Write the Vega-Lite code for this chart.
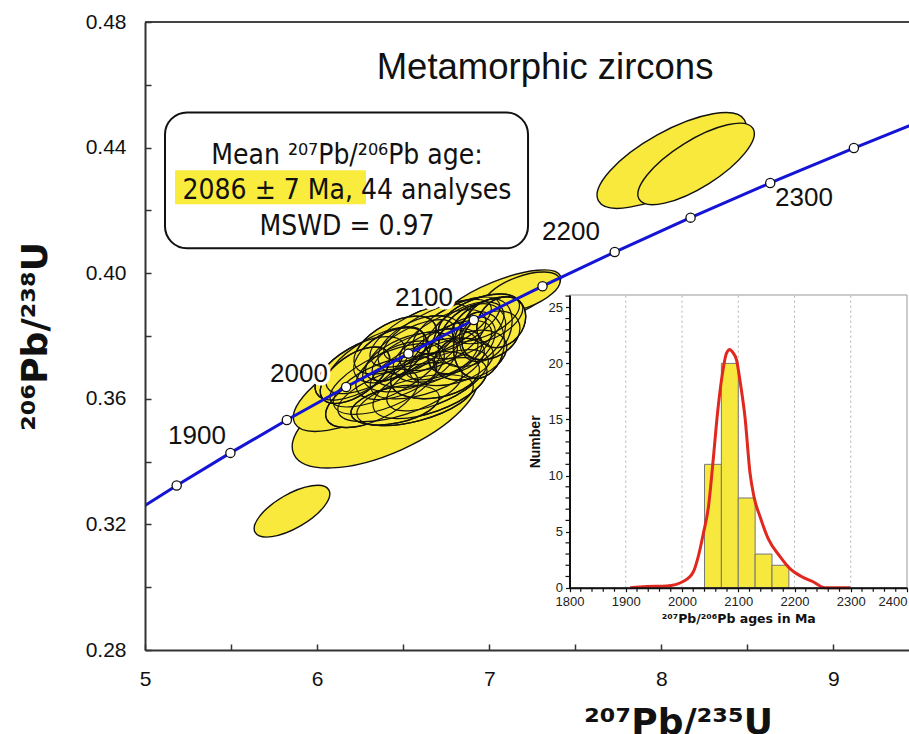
{
  "$schema": "https://vega.github.io/schema/vega-lite/v6.json",
  "width": 764,
  "height": 628,
  "autosize": {"type": "none"},
  "padding": {"left": 145, "top": 22, "right": 0, "bottom": 84},
  "background": "white",
  "config": {"view": {"stroke": null}, "font": "Liberation Sans", "axis": {"labelOverlap": false}},
  "datasets": {
    "ellipses": [
      {"x": 6.395, "y": 0.3554, "major": 1.162, "ratio": 0.4, "tilt": 24, "grp": "b"},
      {"x": 6.319, "y": 0.3653, "major": 1.017, "ratio": 0.35, "tilt": 28, "grp": "b"},
      {"x": 7.063, "y": 0.3914, "major": 0.755, "ratio": 0.3, "tilt": 22, "grp": "b"},
      {"x": 7.191, "y": 0.3939, "major": 0.465, "ratio": 0.4, "tilt": 20, "grp": "b"},
      {"x": 6.482, "y": 0.3621, "major": 0.755, "ratio": 0.35, "tilt": 18, "grp": "c"},
      {"x": 6.395, "y": 0.3675, "major": 0.697, "ratio": 0.35, "tilt": 25, "grp": "c"},
      {"x": 6.700, "y": 0.3818, "major": 0.680, "ratio": 0.35, "tilt": 25, "grp": "c"},
      {"x": 6.569, "y": 0.3596, "major": 0.697, "ratio": 0.35, "tilt": 15, "grp": "c"},
      {"x": 6.656, "y": 0.3634, "major": 0.697, "ratio": 0.4, "tilt": 20, "grp": "c"},
      {"x": 6.640, "y": 0.3697, "major": 0.697, "ratio": 0.4, "tilt": 20, "grp": "c"},
      {"x": 6.395, "y": 0.3643, "major": 0.639, "ratio": 0.4, "tilt": 22, "grp": "c"},
      {"x": 6.700, "y": 0.3659, "major": 0.639, "ratio": 0.4, "tilt": 25, "grp": "c"},
      {"x": 6.627, "y": 0.3729, "major": 0.639, "ratio": 0.45, "tilt": 18, "grp": "c"},
      {"x": 6.336, "y": 0.3723, "major": 0.639, "ratio": 0.4, "tilt": 30, "grp": "c"},
      {"x": 6.598, "y": 0.3802, "major": 0.639, "ratio": 0.4, "tilt": 27, "grp": "c"},
      {"x": 6.319, "y": 0.3602, "major": 0.581, "ratio": 0.45, "tilt": 25, "grp": "c"},
      {"x": 6.540, "y": 0.3717, "major": 0.581, "ratio": 0.5, "tilt": 22, "grp": "c"},
      {"x": 6.760, "y": 0.3755, "major": 0.560, "ratio": 0.45, "tilt": 28, "grp": "c"},
      {"x": 6.730, "y": 0.3787, "major": 0.560, "ratio": 0.45, "tilt": 30, "grp": "c"},
      {"x": 6.540, "y": 0.3755, "major": 0.581, "ratio": 0.4, "tilt": 30, "grp": "c"},
      {"x": 6.810, "y": 0.3834, "major": 0.560, "ratio": 0.4, "tilt": 28, "grp": "c"},
      {"x": 6.249, "y": 0.3697, "major": 0.581, "ratio": 0.45, "tilt": 30, "grp": "c"},
      {"x": 6.700, "y": 0.3739, "major": 0.540, "ratio": 0.5, "tilt": 20, "grp": "c"},
      {"x": 6.482, "y": 0.3691, "major": 0.552, "ratio": 0.5, "tilt": 25, "grp": "c"},
      {"x": 6.453, "y": 0.3580, "major": 0.523, "ratio": 0.4, "tilt": 12, "grp": "c"},
      {"x": 6.598, "y": 0.3771, "major": 0.523, "ratio": 0.55, "tilt": 25, "grp": "c"},
      {"x": 6.780, "y": 0.3717, "major": 0.500, "ratio": 0.5, "tilt": 15, "grp": "c"},
      {"x": 6.685, "y": 0.3675, "major": 0.523, "ratio": 0.5, "tilt": 10, "grp": "c"},
      {"x": 6.860, "y": 0.3818, "major": 0.500, "ratio": 0.5, "tilt": 30, "grp": "c"},
      {"x": 6.940, "y": 0.3857, "major": 0.500, "ratio": 0.45, "tilt": 22, "grp": "c"},
      {"x": 6.453, "y": 0.3771, "major": 0.523, "ratio": 0.5, "tilt": 28, "grp": "c"},
      {"x": 6.424, "y": 0.3739, "major": 0.465, "ratio": 0.55, "tilt": 30, "grp": "c"},
      {"x": 6.840, "y": 0.3771, "major": 0.440, "ratio": 0.6, "tilt": 35, "grp": "c"},
      {"x": 6.900, "y": 0.3802, "major": 0.440, "ratio": 0.7, "tilt": 40, "grp": "c"},
      {"x": 6.990, "y": 0.3850, "major": 0.440, "ratio": 0.5, "tilt": 25, "grp": "c"},
      {"x": 6.890, "y": 0.3739, "major": 0.440, "ratio": 0.6, "tilt": 20, "grp": "c"},
      {"x": 6.220, "y": 0.3675, "major": 0.465, "ratio": 0.5, "tilt": 35, "grp": "c"},
      {"x": 6.980, "y": 0.3818, "major": 0.390, "ratio": 0.7, "tilt": 60, "grp": "c"},
      {"x": 6.940, "y": 0.3771, "major": 0.390, "ratio": 0.75, "tilt": 80, "grp": "c"},
      {"x": 7.010, "y": 0.3802, "major": 0.360, "ratio": 0.7, "tilt": 30, "grp": "c"},
      {"x": 7.070, "y": 0.3844, "major": 0.320, "ratio": 0.8, "tilt": 50, "grp": "c"},
      {"x": 5.854, "y": 0.3242, "major": 0.494, "ratio": 0.4, "tilt": 30, "grp": "b"},
      {"x": 8.059, "y": 0.4359, "major": 0.970, "ratio": 0.35, "tilt": 29, "grp": "b"},
      {"x": 8.202, "y": 0.4348, "major": 0.779, "ratio": 0.35, "tilt": 32, "grp": "b"}
    ],
    "concordia": [
      {"t": 1800, "x": 4.8868, "y": 0.32210},
      {"t": 1850, "x": 5.1840, "y": 0.33240},
      {"t": 1900, "x": 5.4962, "y": 0.34277},
      {"t": 1950, "x": 5.8241, "y": 0.35323},
      {"t": 2000, "x": 6.1685, "y": 0.36377},
      {"t": 2050, "x": 6.5304, "y": 0.37439},
      {"t": 2100, "x": 6.9105, "y": 0.38509},
      {"t": 2150, "x": 7.3097, "y": 0.39587},
      {"t": 2200, "x": 7.7291, "y": 0.40674},
      {"t": 2250, "x": 8.1698, "y": 0.41769},
      {"t": 2300, "x": 8.6327, "y": 0.42873},
      {"t": 2350, "x": 9.1188, "y": 0.43986},
      {"t": 2400, "x": 9.6296, "y": 0.45107}
    ],
    "ageLabels": [
      {"x": 5.302, "y": 0.3481, "label": "1900"},
      {"x": 5.895, "y": 0.3678, "label": "2000"},
      {"x": 6.621, "y": 0.3920, "label": "2100"},
      {"x": 7.475, "y": 0.4130, "label": "2200"},
      {"x": 8.829, "y": 0.4238, "label": "2300"}
    ],
    "bins": [
      {"age": 2040, "age_end": 2070, "n": 11},
      {"age": 2070, "age_end": 2100, "n": 20},
      {"age": 2100, "age_end": 2130, "n": 8},
      {"age": 2130, "age_end": 2160, "n": 3},
      {"age": 2160, "age_end": 2190, "n": 2}
    ],
    "density": [
      {"age": 1908, "n": 0}, {"age": 1937, "n": 0.1}, {"age": 1973, "n": 0.15},
      {"age": 2002, "n": 0.55}, {"age": 2020, "n": 1.4}, {"age": 2029, "n": 2.8},
      {"age": 2038, "n": 4.85}, {"age": 2047, "n": 7.2}, {"age": 2056, "n": 11.7},
      {"age": 2063, "n": 15.5}, {"age": 2071, "n": 18.8}, {"age": 2079, "n": 20.9},
      {"age": 2085, "n": 21.25}, {"age": 2090, "n": 21.0}, {"age": 2097, "n": 20.3},
      {"age": 2103, "n": 18.5}, {"age": 2112, "n": 15.2}, {"age": 2121, "n": 10.2},
      {"age": 2128, "n": 8.1}, {"age": 2139, "n": 6.3}, {"age": 2153, "n": 4.4},
      {"age": 2174, "n": 2.8}, {"age": 2192, "n": 1.7}, {"age": 2213, "n": 0.98},
      {"age": 2233, "n": 0.53}, {"age": 2254, "n": 0}, {"age": 2299, "n": 0}
    ],
    "grid": [{"age": 1900}, {"age": 2000}, {"age": 2100}, {"age": 2200}, {"age": 2300}],
    "minorAge": [
      {"age": 1820}, {"age": 1840}, {"age": 1860}, {"age": 1880},
      {"age": 1920}, {"age": 1940}, {"age": 1960}, {"age": 1980},
      {"age": 2020}, {"age": 2040}, {"age": 2060}, {"age": 2080},
      {"age": 2120}, {"age": 2140}, {"age": 2160}, {"age": 2180},
      {"age": 2220}, {"age": 2240}, {"age": 2260}, {"age": 2280},
      {"age": 2320}, {"age": 2340}, {"age": 2360}, {"age": 2380}
    ],
    "minorCount": [
      {"n": 1}, {"n": 2}, {"n": 3}, {"n": 4}, {"n": 6}, {"n": 7}, {"n": 8}, {"n": 9},
      {"n": 11}, {"n": 12}, {"n": 13}, {"n": 14}, {"n": 16}, {"n": 17}, {"n": 18}, {"n": 19},
      {"n": 21}, {"n": 22}, {"n": 23}, {"n": 24}, {"n": 26}
    ]
  },
  "layer": [
    {
      "layer": [
        {
          "data": {"name": "ellipses"},
          "mark": {"type": "point", "filled": true, "fill": "#f8e93c", "stroke": "#111111", "strokeWidth": 1.4, "opacity": 1},
          "encoding": {
            "x": {"field": "x", "type": "quantitative",
              "scale": {"domain": [5, 9.439], "nice": false, "zero": false},
              "axis": {"orient": "bottom", "values": [5, 5.5, 6, 6.5, 7, 7.5, 8, 8.5, 9],
                "labelExpr": "datum.value % 1 == 0 ? format(datum.value, 'd') : ''",
                "tickSize": -6, "tickWidth": 1.5, "tickColor": "#333333",
                "domainColor": "#333333", "domainWidth": 2,
                "labelFont": "Liberation Sans", "labelFontSize": 21, "labelColor": "#111111",
                "labelPadding": 24, "labelFlush": false, "labelOverlap": false, "grid": false, "zindex": 1,
                "title": "²⁰⁷Pb/²³⁵U", "titleFont": "DejaVu Sans", "titleFontSize": 36,
                "titleFontWeight": "bold", "titleColor": "#111111", "titleX": 533, "titleY": 83,
                "titleAlign": "center", "titleBaseline": "alphabetic"}},
            "y": {"field": "y", "type": "quantitative",
              "scale": {"domain": [0.28, 0.48], "nice": false, "zero": false},
              "axis": {"orient": "left", "values": [0.28, 0.3, 0.32, 0.34, 0.36, 0.38, 0.4, 0.42, 0.44, 0.46, 0.48],
                "labelExpr": "round(datum.value * 100) % 4 == 0 ? format(datum.value, '.2f') : ''",
                "tickSize": -6, "tickWidth": 1.5, "tickColor": "#333333",
                "domainColor": "#333333", "domainWidth": 2,
                "labelFont": "Liberation Sans", "labelFontSize": 21, "labelColor": "#111111",
                "labelPadding": 25, "labelOverlap": false, "grid": false, "zindex": 1,
                "title": "²⁰⁶Pb/²³⁸U", "titleFont": "DejaVu Sans", "titleFontSize": 36,
                "titleFontWeight": "bold", "titleColor": "#111111", "titleX": -110, "titleY": 314,
                "titleAngle": 270, "titleAlign": "center", "titleBaseline": "middle"}},
            "shape": {"field": "ratio", "type": "nominal", "legend": null,
              "scale": {"domain": [0.3, 0.35, 0.4, 0.45, 0.5, 0.55, 0.6, 0.7, 0.75, 0.8],
                "range": [
                  "M -1 0 C -1 -0.1657 -0.5523 -0.3 0 -0.3 C 0.5523 -0.3 1 -0.1657 1 0 C 1 0.1657 0.5523 0.3 0 0.3 C -0.5523 0.3 -1 0.1657 -1 0 Z",
                  "M -1 0 C -1 -0.1933 -0.5523 -0.35 0 -0.35 C 0.5523 -0.35 1 -0.1933 1 0 C 1 0.1933 0.5523 0.35 0 0.35 C -0.5523 0.35 -1 0.1933 -1 0 Z",
                  "M -1 0 C -1 -0.2209 -0.5523 -0.4 0 -0.4 C 0.5523 -0.4 1 -0.2209 1 0 C 1 0.2209 0.5523 0.4 0 0.4 C -0.5523 0.4 -1 0.2209 -1 0 Z",
                  "M -1 0 C -1 -0.2485 -0.5523 -0.45 0 -0.45 C 0.5523 -0.45 1 -0.2485 1 0 C 1 0.2485 0.5523 0.45 0 0.45 C -0.5523 0.45 -1 0.2485 -1 0 Z",
                  "M -1 0 C -1 -0.2762 -0.5523 -0.5 0 -0.5 C 0.5523 -0.5 1 -0.2762 1 0 C 1 0.2762 0.5523 0.5 0 0.5 C -0.5523 0.5 -1 0.2762 -1 0 Z",
                  "M -1 0 C -1 -0.3038 -0.5523 -0.55 0 -0.55 C 0.5523 -0.55 1 -0.3038 1 0 C 1 0.3038 0.5523 0.55 0 0.55 C -0.5523 0.55 -1 0.3038 -1 0 Z",
                  "M -1 0 C -1 -0.3314 -0.5523 -0.6 0 -0.6 C 0.5523 -0.6 1 -0.3314 1 0 C 1 0.3314 0.5523 0.6 0 0.6 C -0.5523 0.6 -1 0.3314 -1 0 Z",
                  "M -1 0 C -1 -0.3866 -0.5523 -0.7 0 -0.7 C 0.5523 -0.7 1 -0.3866 1 0 C 1 0.3866 0.5523 0.7 0 0.7 C -0.5523 0.7 -1 0.3866 -1 0 Z",
                  "M -1 0 C -1 -0.4142 -0.5523 -0.75 0 -0.75 C 0.5523 -0.75 1 -0.4142 1 0 C 1 0.4142 0.5523 0.75 0 0.75 C -0.5523 0.75 -1 0.4142 -1 0 Z",
                  "M -1 0 C -1 -0.4418 -0.5523 -0.8 0 -0.8 C 0.5523 -0.8 1 -0.4418 1 0 C 1 0.4418 0.5523 0.8 0 0.8 C -0.5523 0.8 -1 0.4418 -1 0 Z"
                ]}},
            "size": {"field": "major", "type": "quantitative", "legend": null,
              "scale": {"type": "pow", "exponent": 2, "domain": [0, 1], "range": [0, 29618]}},
            "angle": {"field": "tilt", "type": "quantitative", "legend": null,
              "scale": {"domain": [0, 90], "range": [360, 270]}}
          }
        },
        {
          "data": {"name": "ellipses"},
          "transform": [{"filter": "datum.grp == 'c'"}],
          "mark": {"type": "point", "filled": false, "stroke": "#111111", "strokeWidth": 1.2, "opacity": 1},
          "encoding": {
            "x": {"field": "x", "type": "quantitative"},
            "y": {"field": "y", "type": "quantitative"},
            "shape": {"field": "ratio", "type": "nominal", "legend": null},
            "size": {"field": "major", "type": "quantitative", "legend": null},
            "angle": {"field": "tilt", "type": "quantitative", "legend": null}
          }
        },
        {
          "data": {"values": [{}]},
          "mark": {"type": "rect", "fill": "white", "stroke": "#111111", "strokeWidth": 2, "cornerRadius": 22},
          "encoding": {
            "x": {"datum": 5.1162, "type": "quantitative"}, "x2": {"datum": 7.2255},
            "y": {"datum": 0.4512, "type": "quantitative"}, "y2": {"datum": 0.40792}
          }
        },
        {
          "data": {"values": [{}]},
          "mark": {"type": "rect", "fill": "#f9ec3c"},
          "encoding": {
            "x": {"datum": 5.1743, "type": "quantitative"}, "x2": {"datum": 6.2841},
            "y": {"datum": 0.43275, "type": "quantitative"}, "y2": {"datum": 0.42193}
          }
        },
        {
          "data": {"values": [{}]},
          "mark": {"type": "text", "font": "DejaVu Sans Condensed", "fontSize": 28, "color": "#111111",
            "align": "center", "baseline": "alphabetic", "lineHeight": 35.5,
            "text": ["Mean ²⁰⁷Pb/²⁰⁶Pb age:", "2086 ± 7 Ma, 44 analyses", "MSWD = 0.97"]},
          "encoding": {
            "x": {"datum": 6.1737, "type": "quantitative"},
            "y": {"datum": 0.43488, "type": "quantitative"}
          }
        },
        {
          "data": {"values": [{}]},
          "mark": {"type": "text", "font": "Liberation Sans", "fontSize": 36.5, "color": "#111111",
            "align": "center", "baseline": "alphabetic", "text": "Metamorphic zircons"},
          "encoding": {
            "x": {"datum": 7.3243, "type": "quantitative"},
            "y": {"datum": 0.4620, "type": "quantitative"}
          }
        },
        {
          "data": {"name": "concordia"},
          "mark": {"type": "line", "color": "#1414d6", "strokeWidth": 3, "clip": true},
          "encoding": {
            "x": {"field": "x", "type": "quantitative"},
            "y": {"field": "y", "type": "quantitative"},
            "order": {"field": "t", "type": "quantitative"}
          }
        },
        {
          "data": {"name": "concordia"},
          "mark": {"type": "point", "shape": "circle", "filled": true, "fill": "white", "stroke": "#111111",
            "strokeWidth": 1.3, "size": 85, "opacity": 1, "clip": true},
          "encoding": {
            "x": {"field": "x", "type": "quantitative"},
            "y": {"field": "y", "type": "quantitative"}
          }
        },
        {
          "data": {"name": "ageLabels"},
          "mark": {"type": "text", "font": "Liberation Sans", "fontSize": 26, "fill": "white", "stroke": "white",
            "strokeWidth": 7, "strokeJoin": "round", "align": "center", "baseline": "middle"},
          "encoding": {
            "x": {"field": "x", "type": "quantitative"},
            "y": {"field": "y", "type": "quantitative"},
            "text": {"field": "label", "type": "nominal"}
          }
        },
        {
          "data": {"name": "ageLabels"},
          "mark": {"type": "text", "font": "Liberation Sans", "fontSize": 26, "color": "#111111",
            "align": "center", "baseline": "middle"},
          "encoding": {
            "x": {"field": "x", "type": "quantitative"},
            "y": {"field": "y", "type": "quantitative"},
            "text": {"field": "label", "type": "nominal"}
          }
        },
        {
          "data": {"values": [{}]},
          "mark": {"type": "rule", "color": "#444444", "strokeWidth": 2},
          "encoding": {
            "x": {"datum": 5, "type": "quantitative"}, "x2": {"datum": 9.439},
            "y": {"datum": 0.48, "type": "quantitative"}
          }
        }
      ]
    },
    {
      "layer": [
        {
          "data": {"values": [{}]},
          "mark": {"type": "rect", "fill": "white", "stroke": "#999999", "strokeWidth": 1},
          "encoding": {
            "x": {"datum": 1800, "type": "quantitative",
              "scale": {"domain": [1800, 2400], "range": [424.5, 762], "nice": false, "zero": false},
              "axis": {"orient": "bottom", "offset": -62.3,
                "values": [1800, 1900, 2000, 2100, 2200, 2300, 2400],
                "format": "d",
                "labelAlign": {"condition": {"test": "datum.value == 2400", "value": "right"}, "value": "center"},
                "tickSize": 4, "tickWidth": 1.2, "tickColor": "#111111",
                "domainColor": "#111111", "domainWidth": 2,
                "labelFont": "Liberation Sans", "labelFontSize": 13, "labelColor": "#222222",
                "labelPadding": 4, "labelFlush": false, "labelOverlap": false, "grid": false, "zindex": 2,
                "title": "²⁰⁷Pb/²⁰⁶Pb ages in Ma", "titleFont": "DejaVu Sans", "titleFontSize": 12.5,
                "titleFontWeight": "bold", "titleColor": "#111111", "titlePadding": 4}},
            "x2": {"datum": 2400},
            "y": {"datum": 0, "type": "quantitative",
              "scale": {"domain": [0, 26.1], "range": [565.7, 273], "nice": false, "zero": false},
              "axis": {"orient": "left", "offset": -424.5,
                "values": [0, 5, 10, 15, 20, 25],
                "format": "d",
                "tickSize": 4, "tickWidth": 1.2, "tickColor": "#111111",
                "domainColor": "#111111", "domainWidth": 2,
                "labelFont": "Liberation Sans", "labelFontSize": 13, "labelColor": "#222222",
                "labelPadding": 3, "labelOverlap": false, "grid": false, "zindex": 2,
                "title": "Number", "titleFont": "Liberation Sans", "titleFontSize": 14,
                "titleFontWeight": "bold", "titleColor": "#111111", "titlePadding": 6}},
            "y2": {"datum": 26.1}
          }
        },
        {
          "data": {"name": "grid"},
          "mark": {"type": "rule", "color": "#b0b0b0", "strokeWidth": 1, "strokeDash": [2, 3]},
          "encoding": {
            "x": {"field": "age", "type": "quantitative"},
            "y": {"datum": 0, "type": "quantitative"},
            "y2": {"datum": 26.1}
          }
        },
        {
          "data": {"name": "bins"},
          "mark": {"type": "rect", "fill": "#f7e83e", "stroke": "#777777", "strokeWidth": 1},
          "encoding": {
            "x": {"field": "age", "type": "quantitative"},
            "x2": {"field": "age_end"},
            "y": {"field": "n", "type": "quantitative"},
            "y2": {"datum": 0}
          }
        },
        {
          "data": {"name": "density"},
          "mark": {"type": "line", "color": "#e0281e", "strokeWidth": 3, "interpolate": "monotone"},
          "encoding": {
            "x": {"field": "age", "type": "quantitative"},
            "y": {"field": "n", "type": "quantitative"}
          }
        },
        {
          "data": {"name": "minorAge"},
          "mark": {"type": "rule", "color": "#111111", "strokeWidth": 1.2},
          "encoding": {
            "x": {"field": "age", "type": "quantitative"},
            "y": {"datum": 0, "type": "quantitative"},
            "y2": {"datum": -0.36}
          }
        },
        {
          "data": {"name": "minorCount"},
          "mark": {"type": "rule", "color": "#111111", "strokeWidth": 1.2},
          "encoding": {
            "y": {"field": "n", "type": "quantitative"},
            "x": {"datum": 1800, "type": "quantitative"},
            "x2": {"datum": 1792.9}
          }
        }
      ]
    }
  ],
  "resolve": {
    "scale": {"x": "independent", "y": "independent"},
    "axis": {"x": "independent", "y": "independent"}
  }
}
